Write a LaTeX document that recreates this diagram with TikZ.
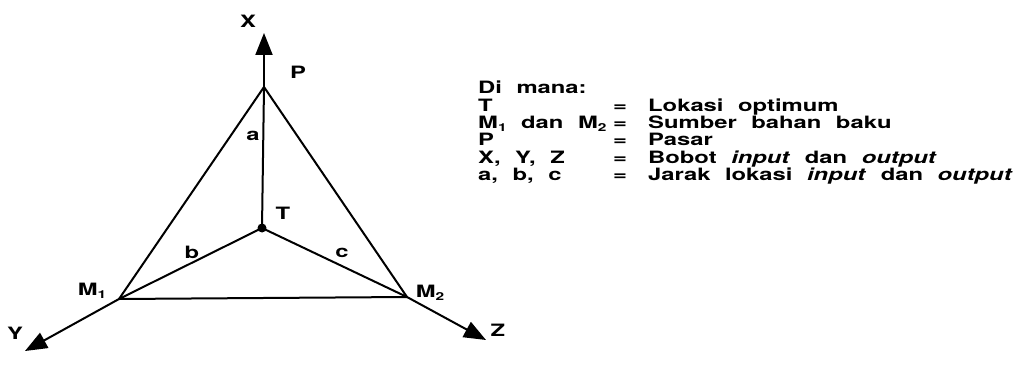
\documentclass[tikz,border=0pt]{standalone}
\usepackage{fontspec}
\usepackage{tikz}
\usetikzlibrary{arrows.meta}
\newfontfamily\lblfont[FakeStretch=1.4,WordSpace=2.2]{TeX Gyre Heros}
\newcommand{\lsub}[1]{\raisebox{-0.35ex}{\fontsize{11}{11}\selectfont #1}}

\begin{document}
\begin{tikzpicture}[
  x=1pt,y=-1pt,
  lbl/.style={font=\lblfont\bfseries\fontsize{17}{16}\selectfont,inner sep=0pt},
  edge/.style={line width=2pt,line cap=round,line join=round},
  axis/.style={line width=2pt,-{Triangle[length=22pt,width=17pt]}}
]
  \useasboundingbox (0,0) rectangle (1017,385);

  % corners of the triangle and the axis ends
  \coordinate (P)    at (264,87);
  \coordinate (M1)   at (119,299);
  \coordinate (M2)   at (407,297);
  \coordinate (Xend) at (264,33);
  \coordinate (Yend) at (25,351);
  \coordinate (Zend) at (486,340);
  \node[circle,fill,inner sep=0pt,minimum size=9pt] (T) at (262,228) {};

  \draw[edge] (P) -- (M1) -- (M2) -- cycle;
  \draw[edge] (P)  -- (T.center);
  \draw[edge] (M1) -- (T.center);
  \draw[edge] (M2) -- (T.center);

  \draw[axis] (P)  -- (Xend);
  \draw[axis] (M1) -- (Yend);
  \draw[axis] (M2) -- (Zend);

  % labels
  \node[lbl] (xlbl)  at (248,21)  {X};
  \node[lbl] (ylbl)  at (15,333)  {Y};
  \node[lbl] (zlbl)  at (498,330) {Z};
  \node[lbl] (plbl)  at (298,72)  {P};
  \node[lbl] (tlbl)  at (283,213) {T};
  \node[lbl] (albl)  at (253,136) {a};
  \node[lbl] (blbl)  at (192,252) {b};
  \node[lbl] (clbl)  at (342,253) {c};
  \node[lbl] (m1lbl) at (92,291)  {M\lsub{1}};
  \node[lbl] (m2lbl) at (430,293) {M\lsub{2}};

  % legend
  \node[lbl,anchor=north west] (legend) at (478,81) {%
    \begin{tabular}{@{}p{135pt}@{}p{35pt}@{}l@{}}
      \multicolumn{3}{@{}l@{}}{Di mana:}\\
      T & = & Lokasi optimum\\
      M\lsub{1} dan M\lsub{2} & = & Sumber bahan baku\\
      P & = & Pasar\\
      X, Y, Z & = & Bobot \textit{input} dan \textit{output}\\
      a, b, c & = & Jarak lokasi \textit{input} dan \textit{output}
    \end{tabular}};
\end{tikzpicture}
\end{document}
